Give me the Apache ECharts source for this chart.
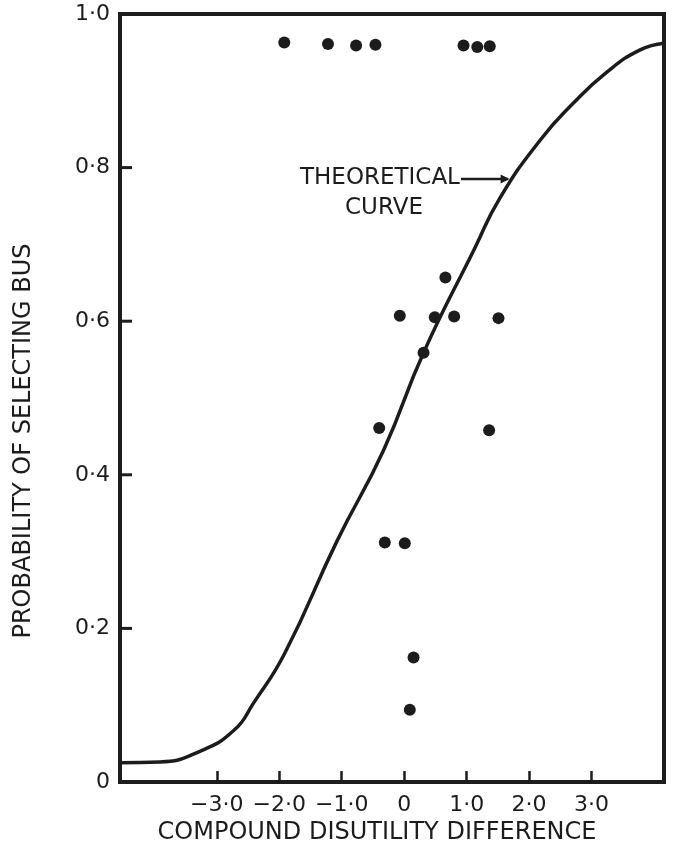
<!DOCTYPE html>
<html><head><meta charset="utf-8">
<script src="https://cdn.jsdelivr.net/npm/echarts@6/dist/echarts.min.js"></script>
<style>html,body{margin:0;padding:0;background:#fff}#c{width:675px;height:861px}</style>
</head><body><div id="c"></div>
<script>
// ---- data ----
const xTickValues = [-3, -2, -1, 0, 1, 2, 3];
const xTickLabels = ['−3·0', '−2·0', '−1·0', '0', '1·0', '2·0', '3·0'];
const yTickValues = [0, 0.2, 0.4, 0.6, 0.8, 1.0];
const yTickLabels = ['0', '0·2', '0·4', '0·6', '0·8', '1·0'];

const curveX = [-4.55, -3.91, -3.27, -2.73, -2.41, -1.91, -1.08, -0.33, 0.31, 1.13, 1.53, 2.17, 2.71, 3.24, 3.77, 4.16];
const curveY = [0.025, 0.026, 0.040, 0.067, 0.103, 0.168, 0.313, 0.432, 0.559, 0.695, 0.760, 0.835, 0.884, 0.924, 0.953, 0.962];

const pointsX = [-1.92, -1.22, -0.77, -0.46, 0.95, 1.17, 1.37, 0.66, -0.07, 0.49, 0.80, 1.51, 0.31, -0.40, 1.36, -0.31, 0.01, 0.15, 0.09];
const pointsY = [0.963, 0.961, 0.959, 0.960, 0.959, 0.957, 0.958, 0.657, 0.607, 0.605, 0.606, 0.604, 0.559, 0.461, 0.458, 0.312, 0.311, 0.162, 0.094];

const xTitle = 'COMPOUND DISUTILITY DIFFERENCE';
const yTitle = 'PROBABILITY OF SELECTING BUS';
const annotation = ['THEORETICAL', 'CURVE'];
const arrowTarget = [1.72, 0.785];

// ---- chart ----
const ink = '#1c1c1c';
const font = 'DejaVu Sans';
const xMin = -4.55, xMax = 4.16;
const chart = echarts.init(document.getElementById('c'), null, {renderer: 'canvas'});

const option = {
  backgroundColor: '#ffffff',
  animation: false,
  grid: {left: 120, right: 11, top: 14, bottom: 79, show: true, borderColor: ink, borderWidth: 4, backgroundColor: 'transparent'},
  xAxis: {
    type: 'value', min: xMin, max: xMax,
    axisLine: {show: false, onZero: false},
    splitLine: {show: false},
    axisTick: {show: true, inside: true, length: 11, lineStyle: {color: ink, width: 2.5}, customValues: xTickValues},
    axisLabel: {
      customValues: xTickValues, margin: 12, color: ink, fontFamily: font, fontSize: 22,
      formatter: v => xTickLabels[xTickValues.indexOf(Math.round(v))]
    }
  },
  yAxis: {
    type: 'value', min: 0, max: 1, interval: 0.2,
    axisLine: {show: false, onZero: false},
    splitLine: {show: false},
    axisTick: {show: false},
    axisLabel: {
      margin: 10, color: ink, fontFamily: font, fontSize: 22,
      formatter: v => yTickLabels[Math.round(v * 5)]
    }
  },
  series: [
    {
      type: 'line', name: 'Theoretical curve',
      data: curveX.map((x, i) => [x, curveY[i]]),
      showSymbol: false, smooth: 0.5,
      lineStyle: {color: ink, width: 3.5}, z: 2
    },
    {
      type: 'scatter', name: 'Observed',
      data: pointsX.map((x, i) => [x, pointsY[i]]),
      symbol: 'circle', symbolSize: 12,
      itemStyle: {color: ink, opacity: 1}, z: 3
    }
  ]
};
chart.setOption(option);

const ctx = document.createElement('canvas').getContext('2d');
ctx.font = '23px "' + font + '"';
const annLeft = 300;
const annRight = annLeft + ctx.measureText(annotation[0]).width;
const tip = chart.convertToPixel({gridIndex: 0}, arrowTarget);

// inward y-axis ticks, positioned through the axis scale
const yTickMarks = yTickValues.slice(1, -1).map(v => {
  const p = chart.convertToPixel({gridIndex: 0}, [xMin, v]);
  return {type: 'rect', z: 100, shape: {x: p[0], y: p[1] - 1.5, width: 12, height: 3}, style: {fill: ink}};
});

chart.setOption({
  graphic: {
    elements: [
      {type: 'text', x: 377, y: 833, style: {text: xTitle, fontFamily: font, fontSize: 24, fill: ink, align: 'center', verticalAlign: 'middle'}},
      {type: 'text', x: 24, y: 441, rotation: Math.PI / 2, style: {text: yTitle, fontFamily: font, fontSize: 24, fill: ink, align: 'center', verticalAlign: 'middle'}},
      {type: 'text', x: annLeft, y: 178, style: {text: annotation[0], fontFamily: font, fontSize: 23, fill: ink, align: 'left', verticalAlign: 'middle'}},
      {type: 'text', x: 384, y: 208, style: {text: annotation[1], fontFamily: font, fontSize: 23, fill: ink, align: 'center', verticalAlign: 'middle'}},
      {type: 'line', shape: {x1: annRight + 1, y1: tip[1], x2: tip[0] - 4, y2: tip[1]}, style: {stroke: ink, lineWidth: 2.5}},
      {type: 'polygon', shape: {points: [[tip[0] - 2, tip[1]], [tip[0] - 11, tip[1] - 4.5], [tip[0] - 11, tip[1] + 4.5]]}, style: {fill: ink}}
    ].concat(yTickMarks)
  }
});
</script>
</body></html>
